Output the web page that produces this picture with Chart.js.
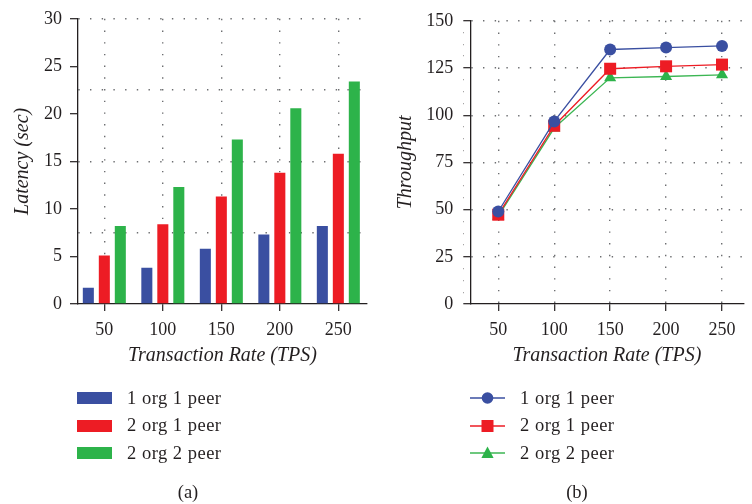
<!DOCTYPE html>
<html>
<head>
<meta charset="utf-8">
<script src="https://cdn.jsdelivr.net/npm/chart.js@4.4.1/dist/chart.umd.min.js"></script>
<style>
  html, body { margin:0; padding:0; background:#ffffff; width:752px; height:504px; overflow:hidden; }
  body { position:relative; font-family:"Liberation Serif","Times New Roman",serif; color:#231f20; }
  .wrap { position:absolute; top:0; width:376px; height:375px; }
  #wrapA { left:0; }
  #wrapB { left:376px; }
  .legend { position:absolute; left:0; top:0; width:752px; height:504px; pointer-events:none; }
  .lg-item { position:absolute; height:22px; display:flex; align-items:center; white-space:nowrap; font-size:18.5px; letter-spacing:0.5px; }
  .lg-item svg { display:block; margin-right:14px; }
  .caption { position:absolute; font-size:18.5px; transform:translate(-50%,-50%); }
</style>
</head>
<body>
<div class="wrap" id="wrapA"><canvas id="chartA"></canvas></div>
<div class="wrap" id="wrapB"><canvas id="chartB"></canvas></div>
<div class="legend" id="legend"></div>
<div class="caption" style="left:188px; top:492px;">(a)</div>
<div class="caption" style="left:577px; top:492px;">(b)</div>
<script>
// ---------------- data ----------------
const rates = [50, 100, 150, 200, 250];
const seriesNames = ['1 org 1 peer', '2 org 1 peer', '2 org 2 peer'];

const latency1org1peer = [1.7, 3.8, 5.8, 7.3, 8.2];
const latency2org1peer = [5.1, 8.4, 11.3, 13.8, 15.8];
const latency2org2peer = [8.2, 12.3, 17.3, 20.6, 23.4];

const throughput1org1peer = [49, 96.7, 134.8, 135.8, 136.7];
const throughput2org1peer = [47.3, 94.4, 124.6, 125.9, 126.8];
const throughput2org2peer = [46.5, 93.2, 119.8, 120.5, 121.4];

const latencyLabelTicks = [0, 5, 10, 15, 20, 25, 30];
const throughputLabelTicks = [0, 25, 50, 75, 100, 125, 150];

// ---------------- styles ----------------
const seriesColors = ['#3a4fa1', '#ed1c24', '#2db34a'];
const lineColors = ['#3a4fa1', '#ed1c24', '#3cb653'];
const pointStyles = ['circle', 'rect', 'triangle'];
const pointRadii = [6, 8.5, 7];
const textColor = '#231f20';
const axisColor = '#231f20';
const dotColor = '#6d6e71';
const tickFont = { family: 'Liberation Serif', size: 18 };
const titleFont = { family: 'Liberation Serif', size: 20, style: 'italic' };

Chart.defaults.color = textColor;
Chart.defaults.animation = false;

function xAxis(min, max) {
  return {
    type: 'linear',
    min: min, max: max,
    offset: false,
    afterBuildTicks: (s) => { s.ticks = rates.map(v => ({ value: v })); },
    afterFit: (s) => { s.height = 71; },
    grid: { offset: false, color: dotColor, lineWidth: 1.4, tickColor: axisColor, tickLength: 7, tickWidth: 1.2 },
    border: { color: axisColor, width: 1.3, dash: [1.4, 10.3] },
    ticks: { font: tickFont, color: textColor, padding: 8, maxRotation: 0, autoSkip: false },
    title: { display: true, text: 'Transaction Rate (TPS)', font: titleFont, color: textColor, padding: { top: 0, bottom: 7 } }
  };
}

function yAxis(max, minorStep, labelTicks, gridStep, title, width, tl, minorLen, labelPad, titlePad) {
  return {
    type: 'linear',
    min: 0, max: max,
    afterFit: (s) => { s.width = width; },
    ticks: {
      stepSize: minorStep, autoSkip: false, font: tickFont, color: textColor, padding: labelPad,
      callback: (v) => labelTicks.includes(v) ? String(v) : ''
    },
    grid: {
      color: (c) => (c.tick && c.tick.value > 0 && Math.abs(c.tick.value / gridStep - Math.round(c.tick.value / gridStep)) < 1e-6) ? dotColor : 'rgba(0,0,0,0)',
      lineWidth: 1.4,
      tickColor: axisColor,
      tickWidth: 1.2,
      tickLength: tl,
      tickBorderDash: (c) => (c.tick && labelTicks.includes(c.tick.value)) ? [] : [minorLen, tl],
      tickBorderDashOffset: (c) => (c.tick && labelTicks.includes(c.tick.value)) ? 0 : tl - minorLen
    },
    border: { color: axisColor, width: 1.3, dash: [1.4, 10.3] },
    title: { display: true, text: title, font: titleFont, color: textColor, padding: { top: titlePad, bottom: 0 } }
  };
}

// ---------------- chart (a) ----------------
const latencySeries = [latency1org1peer, latency2org1peer, latency2org2peer];
new Chart(document.getElementById('chartA'), {
  type: 'bar',
  data: {
    datasets: latencySeries.map((vals, i) => ({
      label: seriesNames[i],
      data: rates.map((r, j) => ({ x: r, y: vals[j] })),
      backgroundColor: seriesColors[i],
      borderWidth: 0,
      barPercentage: 0.69,
      categoryPercentage: 0.82
    }))
  },
  options: {
    responsive: true, maintainAspectRatio: false,
    layout: { padding: { left: 0, right: 9, top: 16, bottom: 0 } },
    plugins: { legend: { display: false }, tooltip: { enabled: false } },
    scales: {
      x: xAxis(27.5, 274.5),
      y: yAxis(30, 1.25, latencyLabelTicks, 7.5, 'Latency (sec)', 78, 8, 4, 8, 11)
    }
  }
});

// ---------------- chart (b) ----------------
const throughputSeries = [throughput1org1peer, throughput2org1peer, throughput2org2peer];
new Chart(document.getElementById('chartB'), {
  type: 'line',
  data: {
    datasets: throughputSeries.map((vals, i) => ({
      label: seriesNames[i],
      data: rates.map((r, j) => ({ x: r, y: vals[j] })),
      borderColor: lineColors[i],
      backgroundColor: seriesColors[i],
      pointBackgroundColor: seriesColors[i],
      pointBorderColor: seriesColors[i],
      pointBorderWidth: 0,
      pointStyle: pointStyles[i],
      pointRadius: pointRadii[i],
      borderWidth: 1.3,
      tension: 0,
      clip: false
    }))
  },
  options: {
    responsive: true, maintainAspectRatio: false,
    layout: { padding: { left: 0, right: 0, top: 16, bottom: 0 } },
    plugins: { legend: { display: false }, tooltip: { enabled: false } },
    scales: {
      x: xAxis(25, 269.2),
      y: yAxis(150, 6.25, throughputLabelTicks, 25, 'Throughput', 94.3, 7, 3.7, 10, 18)
    }
  }
});

// ---------------- legends (HTML text) ----------------
const legend = document.getElementById('legend');
const rowCenters = [398, 425.7, 453];
function addItem(left, top, svg, text) {
  const d = document.createElement('div');
  d.className = 'lg-item';
  d.style.left = left + 'px';
  d.style.top = (top - 11) + 'px';
  d.innerHTML = svg;
  const s = document.createElement('span');
  s.textContent = text;
  d.appendChild(s);
  legend.appendChild(d);
}
seriesNames.forEach((name, i) => {
  const box = `<svg width="36" height="12"><rect x="0" y="0" width="35" height="12" fill="${seriesColors[i]}"/></svg>`;
  addItem(77, rowCenters[i], box, name);
  let marker;
  if (pointStyles[i] === 'circle') marker = `<circle cx="17.5" cy="8" r="5.8" fill="${seriesColors[i]}"/>`;
  else if (pointStyles[i] === 'rect') marker = `<rect x="11.5" y="2" width="12" height="12" fill="${seriesColors[i]}"/>`;
  else marker = `<polygon points="17.5,1.5 23.6,13 11.4,13" fill="${seriesColors[i]}"/>`;
  const line = `<svg width="36" height="16"><line x1="0" y1="8" x2="35" y2="8" stroke="${lineColors[i]}" stroke-width="1.6"/>${marker}</svg>`;
  addItem(470, rowCenters[i], line, name);
});
</script>
</body>
</html>
